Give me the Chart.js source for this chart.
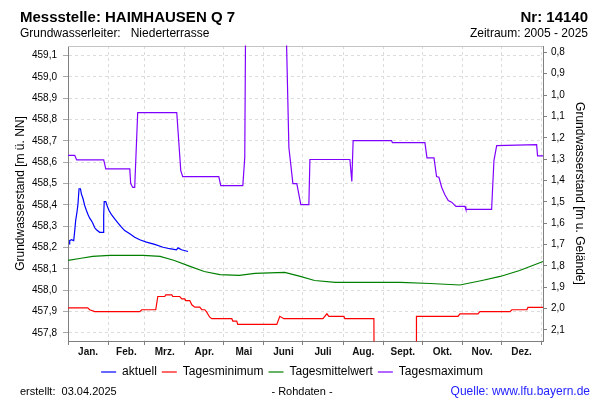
<!DOCTYPE html>
<html><head><meta charset="utf-8">
<script src="https://cdn.jsdelivr.net/npm/chart.js@4"></script>
<style>html,body{margin:0;padding:0;background:#fff}canvas{display:block}</style>
</head><body>
<canvas id="c" width="600" height="400"></canvas>
<script>
// ---- texts ----
const titleText = 'Messstelle: HAIMHAUSEN Q 7';
const numberText = 'Nr: 14140';
const aquiferText = 'Grundwasserleiter:   Niederterrasse';
const periodText = 'Zeitraum: 2005 - 2025';
const createdText = 'erstellt:  03.04.2025';
const rawText = '- Rohdaten -';
const sourceText = 'Quelle: www.lfu.bayern.de';
const leftTitle = 'Grundwasserstand [m ü. NN]';
const rightTitle = 'Grundwasserstand [m u. Gelände]';

// ---- axes ----
const monthLabels = ['Jan.','Feb.','Mrz.','Apr.','Mai','Juni','Juli','Aug.','Sept.','Okt.','Nov.','Dez.'];
const monthStartDays = [0,31,59,90,120,151,181,212,243,273,304,334,365];
const leftTicks = [457.8,457.9,458.0,458.1,458.2,458.3,458.4,458.5,458.6,458.7,458.8,458.9,459.0,459.1];
const rightTicks = [0.8,0.9,1.0,1.1,1.2,1.3,1.4,1.5,1.6,1.7,1.8,1.9,2.0,2.1];
const groundLevel = 459.915;
const leftMin = 457.7625, leftMax = 459.145;
const dayMax = 366;

// ---- series ----
const aktuellDays = [0.8,1.3,2.6,4.4,5.2,5.9,6.9,7.7,8.5,9.6,10.3,11.6,12.9,14.2,15.4,16.7,18,19.3,20.6,21.9,24.4,27,27.5,27.9,29.1,30.1,31.6,33.5,36,38.6,41.2,43.7,47.6,51.4,55.3,60.4,66.8,73.2,78.3,83.6,84.8,87.4,92.5];
const aktuellValues = [458.218,458.233,458.237,458.233,458.280,458.327,458.366,458.405,458.476,458.476,458.452,458.429,458.397,458.374,458.355,458.338,458.327,458.312,458.293,458.284,458.272,458.272,458.350,458.416,458.416,458.397,458.374,458.355,458.335,458.315,458.296,458.280,458.265,458.249,458.237,458.226,458.215,458.202,458.195,458.190,458.199,458.190,458.182];

const minDays = [0,15.2,16.7,20.6,55.3,56.8,67.6,69.2,74.6,75.3,80,80.7,86.1,87.7,90,90.7,93.8,95.4,97.7,101.5,103.1,105.4,106.9,109.2,110.8,126.2,127,130,130.8,160.9,163.2,166.3,196.4,199.5,201,212.6,213.3,235.7,236,268.2,268.5,300.5,302,315.9,317.4,340.6,342,353.6,354.4,366];
const minValues = [457.918,457.918,457.909,457.900,457.900,457.909,457.909,457.971,457.971,457.979,457.979,457.971,457.971,457.960,457.960,457.952,457.952,457.932,457.921,457.921,457.909,457.909,457.898,457.874,457.867,457.867,457.856,457.856,457.840,457.840,457.878,457.867,457.867,457.890,457.878,457.878,457.867,457.867,457.500,457.500,457.878,457.878,457.890,457.890,457.900,457.900,457.909,457.909,457.920,457.920];

const meanDays = [0,9,19,32,58,71,82,94,105,117,132,144,167,179,190,206,256,279,302,319,333,348,360,366];
const meanValues = [458.140,458.149,458.159,458.164,458.164,458.159,458.140,458.112,458.088,458.074,458.070,458.079,458.084,458.065,458.046,458.037,458.037,458.032,458.025,458.046,458.065,458.093,458.121,458.135];

const maxDays = [0,5.2,6.7,27.5,29.1,47.6,48.3,49.9,51.4,53.7,83.8,86.9,88.4,116.2,117.7,134.7,136.2,137,167.5,170.2,173.3,176.3,179.4,185.6,186.4,217.2,218.7,219.7,249.3,250,275,276.6,282,284,285.8,287.9,290.4,293,295.6,298.9,305.9,306.6,326.4,328.2,330.3,361.1,361.8,366];
const maxValues = [458.632,458.632,458.611,458.611,458.569,458.569,458.500,458.482,458.482,458.833,458.833,458.561,458.533,458.533,458.491,458.491,458.622,459.400,459.400,458.669,458.500,458.500,458.402,458.402,458.613,458.613,458.510,458.702,458.702,458.692,458.692,458.621,458.621,458.533,458.530,458.483,458.448,458.421,458.413,458.393,458.393,458.379,458.379,458.608,458.678,458.683,458.630,458.630];

// ---- build ----
const FONT = '"Liberation Sans", Arial, Helvetica, sans-serif';
Chart.defaults.font.family = FONT;
Chart.defaults.color = '#000';

const pts = (xs, ys) => xs.map((x, i) => ({x: x, y: ys[i]}));
const monthMid = monthLabels.map((_, i) => (monthStartDays[i] + monthStartDays[i + 1]) / 2);
const xTickValues = monthStartDays.concat(monthMid).sort((a, b) => a - b);
const isStart = v => monthStartDays.indexOf(v) >= 0;
const comma = v => Number(v).toFixed(1).replace('.', ',');

function ds(label, xs, ys, color) {
  return {label: label, data: pts(xs, ys), borderColor: color, backgroundColor: color,
    borderWidth: 1.2, pointRadius: 0, tension: 0, fill: false, clip: 0.5, yAxisID: 'y'};
}

const frame = {
  id: 'frame',
  afterLayout(chart) {
    if (chart.legend) { chart.legend.left -= 8; chart.legend.right -= 8; }
  },
  beforeDatasetsDraw(chart) {
    const {ctx, chartArea: a} = chart;
    ctx.save();
    ctx.strokeStyle = '#c4c4c4'; ctx.lineWidth = 1;
    ctx.beginPath(); ctx.moveTo(a.left, Math.round(a.top) + 0.5); ctx.lineTo(a.right, Math.round(a.top) + 0.5); ctx.stroke();
    ctx.restore();
  }
};
const texts = {
  id: 'texts',
  afterDraw(chart) {
    const ctx = chart.ctx;
    ctx.save();
    ctx.fillStyle = '#000';
    ctx.textBaseline = 'alphabetic';
    ctx.font = 'bold 15px ' + FONT;
    ctx.textAlign = 'left'; ctx.fillText(titleText, 20, 22);
    ctx.textAlign = 'right'; ctx.fillText(numberText, 588, 22);
    ctx.font = '12px ' + FONT;
    ctx.textAlign = 'left'; ctx.fillText(aquiferText, 20, 37);
    ctx.textAlign = 'right'; ctx.fillText(periodText, 588, 37);
    ctx.font = '11px ' + FONT;
    ctx.textAlign = 'left'; ctx.fillText(createdText, 20, 395);
    ctx.textAlign = 'center'; ctx.fillText(rawText, 302, 395);
    ctx.font = '12px ' + FONT;
    ctx.fillStyle = '#2222ff';
    ctx.textAlign = 'right'; ctx.fillText(sourceText, 590, 395);
    ctx.restore();
  }
};

new Chart(document.getElementById('c'), {
  type: 'line',
  data: {
    datasets: [
      ds('aktuell', aktuellDays, aktuellValues, '#0000ff'),
      ds('Tagesminimum', minDays, minValues, '#ff0000'),
      ds('Tagesmittelwert', meanDays, meanValues, '#008000'),
      ds('Tagesmaximum', maxDays, maxValues, '#8000ff')
    ]
  },
  options: {
    responsive: false, animation: false, devicePixelRatio: 1, events: [],
    layout: {padding: {top: 46, left: 0, right: 0, bottom: 12}},
    plugins: {
      title: {display: false}, tooltip: {enabled: false},
      legend: {
        position: 'bottom',
        labels: {usePointStyle: true, pointStyle: 'line', pointStyleWidth: 15, boxHeight: 12,
          font: {size: 12}, color: '#000', padding: 5}
      }
    },
    scales: {
      x: {
        type: 'linear', position: 'bottom', min: 0, max: dayMax,
        afterBuildTicks: s => { s.ticks = xTickValues.map(v => ({value: v})); },
        afterFit: s => { s.height = 20; },
        ticks: {autoSkip: false, maxRotation: 0, padding: 1, font: {size: 10, weight: 'bold'}, color: '#111',
          callback: v => { const i = monthMid.indexOf(v); return i >= 0 ? monthLabels[i] : ''; }},
        grid: {
          color: c => (c.tick && isStart(c.tick.value)) ? '#dcdcdc' : 'rgba(0,0,0,0)',
          tickColor: c => (c.tick && isStart(c.tick.value)) ? '#808080' : 'rgba(0,0,0,0)',
          tickLength: 4, lineWidth: 1
        },
        border: {display: true, color: '#808080', dash: [3, 3]}
      },
      y: {
        type: 'linear', position: 'left', min: leftMin, max: leftMax,
        afterBuildTicks: s => { s.ticks = leftTicks.map(v => ({value: v})); },
        afterFit: s => { s.width = 68; },
        ticks: {padding: 6, font: {size: 10}, color: '#000', callback: v => comma(v)},
        grid: {color: '#dcdcdc', tickColor: '#aaaaaa', tickLength: 5},
        border: {display: true, color: '#808080', dash: [3, 3]},
        title: {display: true, text: leftTitle, font: {size: 12}, color: '#000', padding: {top: 13, bottom: 0}}
      },
      y2: {
        type: 'linear', position: 'right', reverse: true,
        min: groundLevel - leftMax, max: groundLevel - leftMin,
        afterBuildTicks: s => { s.ticks = rightTicks.map(v => ({value: v})); },
        afterFit: s => { s.width = 57; },
        ticks: {padding: 4, font: {size: 10}, color: '#000', callback: v => comma(v)},
        grid: {drawOnChartArea: false, tickColor: '#808080', tickLength: 4},
        border: {display: true, color: '#808080'},
        title: {display: true, text: rightTitle, font: {size: 12}, color: '#000', padding: {top: 13, bottom: 0}}
      }
    }
  },
  plugins: [frame, texts]
});
</script>
</body></html>
